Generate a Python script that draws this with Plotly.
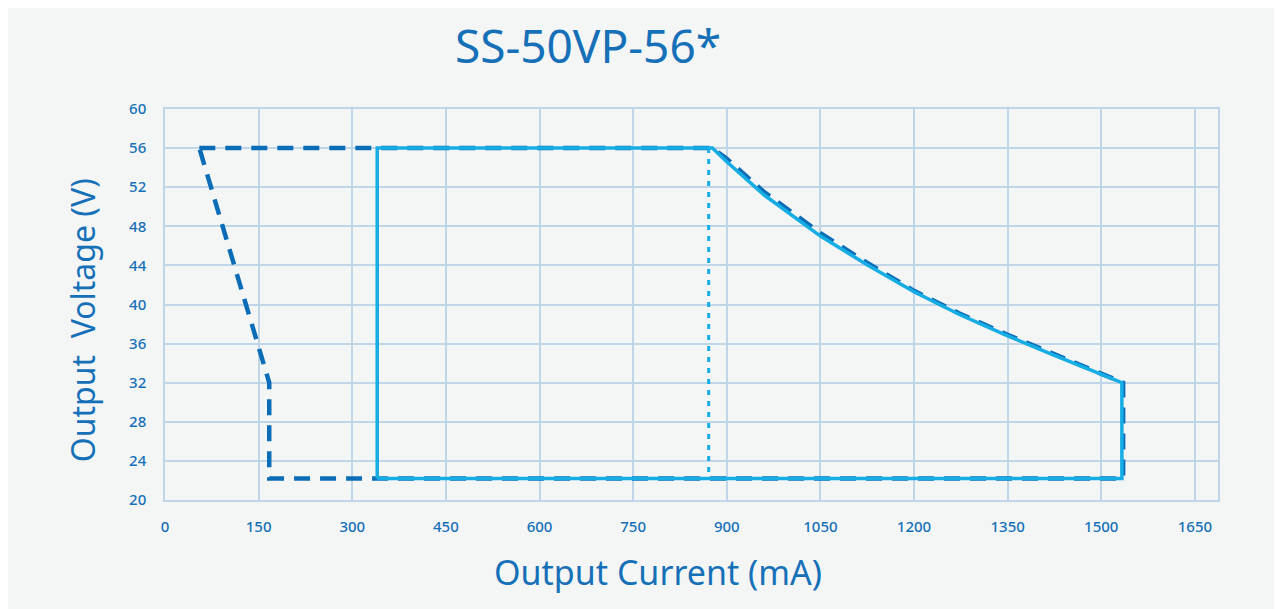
import plotly.graph_objects as go

# ---- data ----
title_text = "SS-50VP-56*"
x_title = "Output Current (mA)"
y_title = "Output  Voltage (V)"

x_ticks = [0, 150, 300, 450, 600, 750, 900, 1050, 1200, 1350, 1500, 1650]
y_ticks = [20, 24, 28, 32, 36, 40, 44, 48, 52, 56, 60]

# dashed (dark blue) operating window
dash_current = [55, 877, 900, 960, 1050, 1124, 1200, 1272, 1350, 1421, 1500, 1535, 1535, 167, 167, 55]
dash_voltage = [56, 56, 54.9, 51.5, 47.3, 44.3, 41.4, 39.1, 36.9, 35.0, 32.9, 32.0, 22.2, 22.2, 32.0, 56]

# solid (light blue) operating window
solid_current = [340, 340, 877, 900, 960, 1050, 1124, 1200, 1272, 1350, 1421, 1500, 1533, 1533, 340]
solid_voltage = [22.2, 56, 56, 54.6, 51.2, 47.0, 44.1, 41.3, 39.0, 36.8, 34.9, 32.8, 32.0, 22.2, 22.2]

# dotted vertical marker
dot_current = [871, 871]
dot_voltage = [56, 22.2]

# ---- styling ----
BG = "#F4F6F6"
GRID = "#BFD5E8"
TXT = "#1670B8"
DARK = "#0B6DB7"
LIGHT = "#16ACE4"
FONT = "Noto Sans"

fig = go.Figure()
fig.add_trace(go.Scatter(x=dash_current, y=dash_voltage, mode="lines",
                         line=dict(color=DARK, width=4.5, dash="16px,10px"),
                         hoverinfo="skip", showlegend=False))
fig.add_trace(go.Scatter(x=solid_current, y=solid_voltage, mode="lines",
                         line=dict(color=LIGHT, width=3.5),
                         hoverinfo="skip", showlegend=False))
fig.add_trace(go.Scatter(x=dot_current, y=dot_voltage, mode="lines",
                         line=dict(color=LIGHT, width=3, dash="5px,6px"),
                         hoverinfo="skip", showlegend=False))

W, H = 1274, 601
fig.update_layout(
    width=W, height=H,
    margin=dict(l=157, r=64, t=101, b=109),
    paper_bgcolor=BG, plot_bgcolor=BG,
    font=dict(family=FONT, color=TXT, size=15),
    title=dict(text=title_text, x=580 / W, y=1 - 39 / H, xanchor="center", yanchor="middle",
               font=dict(family=FONT, size=46, color=TXT)),
    showlegend=False,
)
fig.update_xaxes(range=[0, 1687], tickvals=x_ticks, ticktext=[str(v) for v in x_ticks],
                 showgrid=True, gridcolor=GRID, gridwidth=1.5,
                 showline=True, linecolor=GRID, linewidth=1.5, mirror=True,
                 ticks="outside", ticklen=12, tickcolor="rgba(0,0,0,0)",
                 zeroline=False, tickfont=dict(size=15, color=TXT, family=FONT, weight=500))
fig.update_yaxes(range=[20, 60], tickvals=y_ticks, ticktext=[str(v) for v in y_ticks],
                 showgrid=True, gridcolor=GRID, gridwidth=1.5,
                 showline=True, linecolor=GRID, linewidth=1.5, mirror=True,
                 ticks="outside", ticklen=14, tickcolor="rgba(0,0,0,0)",
                 zeroline=False, tickfont=dict(size=15, color=TXT, family=FONT, weight=500))

fig.add_annotation(text=x_title, xref="paper", yref="paper", x=0.468, y=-0.183,
                   xanchor="center", yanchor="middle", showarrow=False,
                   font=dict(family=FONT, size=34, color=TXT))
fig.add_annotation(text=y_title, xref="paper", yref="paper", x=-0.0782, y=0.4586,
                   xanchor="center", yanchor="middle", showarrow=False, textangle=-90,
                   font=dict(family=FONT, size=32, color=TXT))

fig.write_html("out.html", post_script="document.body.style.overflow='hidden';")
